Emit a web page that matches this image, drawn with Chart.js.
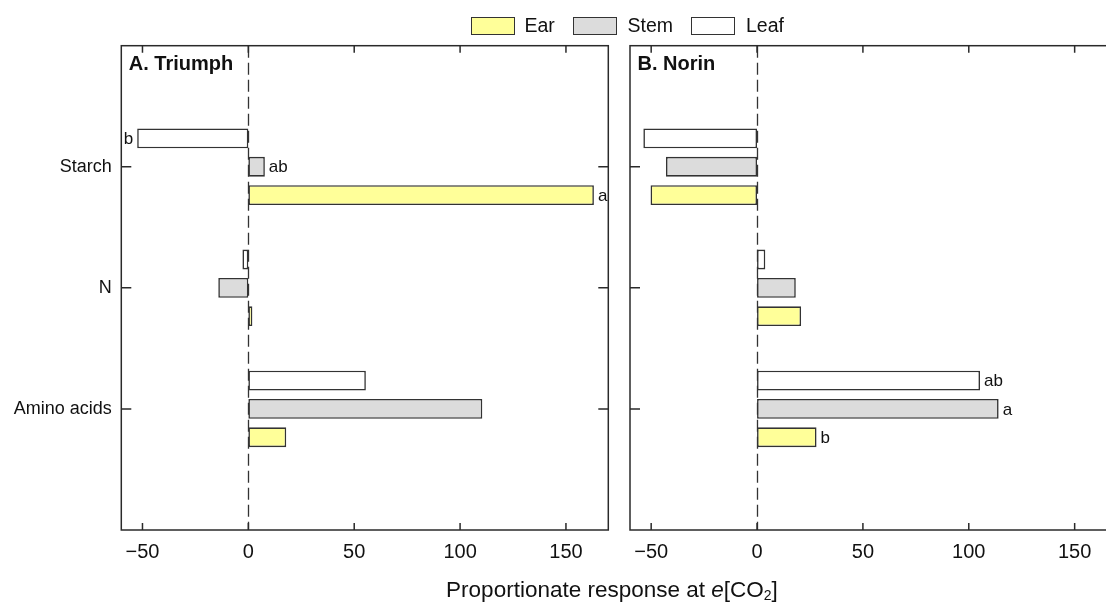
<!DOCTYPE html>
<html><head><meta charset="utf-8">
<script src="https://cdn.jsdelivr.net/npm/chart.js@4.4.1/dist/chart.umd.min.js"></script>
<style>
html,body{margin:0;padding:0;width:1106px;height:606px;overflow:hidden;background:#fff;}
body{position:relative;font-family:"Liberation Sans",Arial,sans-serif;color:#111;}
#c1{position:absolute;left:0;top:0;}
#c2{position:absolute;left:620px;top:0;}
.box{position:absolute;box-sizing:border-box;width:44px;height:18px;border:1.5px solid #333;top:16.5px;}
.lt{position:absolute;font-size:19.5px;line-height:1;top:16.2px;}
#xtitle{position:absolute;left:0;width:1224px;text-align:center;top:578.6px;font-size:22.5px;line-height:1;}
#xtitle sub{font-size:14px;vertical-align:-3px;line-height:0;}
</style></head>
<body>
<canvas id="c1" width="620" height="606"></canvas>
<canvas id="c2" width="500" height="606"></canvas>
<div id="legend"></div>
<div id="xtitle">Proportionate response at <i>e</i>[CO<sub>2</sub>]</div>
<script>
// ---- data ----
const categories = ['Starch', 'N', 'Amino acids'];
const seriesNames = ['Leaf', 'Stem', 'Ear'];
const legendOrder = ['Ear', 'Stem', 'Leaf'];
const triumphLeaf = [-52.5, -2.8, 55.5];
const triumphStem = [7.8, -14.2, 110.5];
const triumphEar  = [163.2, 1.9, 17.9];
const norinLeaf = [-53.7, 3.9, 105.3];
const norinStem = [-43.0, 18.3, 114.1];
const norinEar  = [-50.3, 20.8, 28.1];
const triumphLeafLetters = ['b', '', ''];
const triumphStemLetters = ['ab', '', ''];
const triumphEarLetters  = ['a', '', ''];
const norinLeafLetters = ['', '', 'ab'];
const norinStemLetters = ['', '', 'a'];
const norinEarLetters  = ['', '', 'b'];
const xTicks = [-50, 0, 50, 100, 150];
const xMin = -60, xMax = 170;

// ---- styles ----
const FONT = '"Liberation Sans",Arial,sans-serif';
const fills = {Leaf: '#ffffff', Stem: '#dcdcdc', Ear: '#ffff99'};
const edge = '#333333';

// legend (HTML)
const legendPos = {Ear: [470.5, 524.5], Stem: [572.5, 627.5], Leaf: [690.5, 746]};
const lg = document.getElementById('legend');
legendOrder.forEach(n => {
  const b = document.createElement('div'); b.className = 'box';
  b.style.left = legendPos[n][0] + 'px'; b.style.background = fills[n]; lg.appendChild(b);
  const t = document.createElement('div'); t.className = 'lt';
  t.style.left = legendPos[n][1] + 'px'; t.textContent = n; lg.appendChild(t);
});

const framePlugin = {
  id: 'frame',
  beforeDatasetsDraw(chart) {
    const {ctx, chartArea: a, scales: {x}} = chart;
    const px = Math.round(x.getPixelForValue(0)) + 0.5;
    ctx.save();
    ctx.strokeStyle = '#333'; ctx.lineWidth = 1.3; ctx.setLineDash([12, 5]);
    ctx.beginPath(); ctx.moveTo(px, a.top); ctx.lineTo(px, a.bottom); ctx.stroke();
    ctx.restore();
  },
  afterDatasetsDraw(chart, args, opts) {
    const {ctx, chartArea: a, scales: {x, y}} = chart;
    ctx.save();
    ctx.strokeStyle = '#2a2a2a'; ctx.lineWidth = 1.5;
    ctx.strokeRect(a.left, a.top, a.right - a.left, a.bottom - a.top);
    ctx.beginPath();
    xTicks.forEach(v => {
      const p = x.getPixelForValue(v);
      ctx.moveTo(p, a.bottom); ctx.lineTo(p, a.bottom - 7);
      ctx.moveTo(p, a.top); ctx.lineTo(p, a.top + 7);
    });
    categories.forEach(c => {
      const p = y.getPixelForValue(chart.data.labels.indexOf(c));
      ctx.moveTo(a.left, p); ctx.lineTo(a.left + 10, p);
      ctx.moveTo(a.right, p); ctx.lineTo(a.right - 10, p);
    });
    ctx.stroke();
    // significance letters
    ctx.fillStyle = '#111'; ctx.font = '17px ' + FONT; ctx.textBaseline = 'middle';
    chart.data.datasets.forEach((ds, di) => {
      const meta = chart.getDatasetMeta(di);
      meta.data.forEach((el, i) => {
        const L = ds.letters[i];
        if (!L) return;
        const v = ds.data[i];
        if (v >= 0) { ctx.textAlign = 'left'; ctx.fillText(L, el.x + 4, el.y + 1); }
        else { ctx.textAlign = 'right'; ctx.fillText(L, el.x - 4, el.y + 1); }
      });
    });
    // panel title
    ctx.font = 'bold 20px ' + FONT; ctx.textAlign = 'left'; ctx.textBaseline = 'alphabetic';
    ctx.fillText(opts.title, a.left + 7.5, a.top + 24.3);
    ctx.restore();
  }
};

function makeChart(id, title, series, letters, showY, yWidth, padRight) {
  const labels = ['', ...categories, ''];
  const pad = arr => [null, ...arr, null];
  return new Chart(document.getElementById(id), {
    type: 'bar',
    data: {
      labels,
      datasets: series.map((s, i) => ({
        label: seriesNames[i], data: pad(s), letters: pad(letters[i]),
        backgroundColor: fills[seriesNames[i]], borderColor: edge, borderWidth: 1.6,
        borderSkipped: false, categoryPercentage: 0.7025, barPercentage: 0.70
      }))
    },
    options: {
      indexAxis: 'y', responsive: false, animation: false, devicePixelRatio: 1,
      layout: {padding: {top: 45.7, right: padRight, left: 0, bottom: 0}},
      plugins: {legend: {display: false}, tooltip: {enabled: false}, frame: {title}},
      scales: {
        x: {
          type: 'linear', min: xMin, max: xMax,
          afterBuildTicks: s => { s.ticks = xTicks.map(v => ({value: v})); },
          afterFit: s => { s.height = 76; },
          grid: {display: false, drawTicks: false}, border: {display: false},
          ticks: {padding: 10, color: '#111', font: {family: FONT, size: 20},
                  callback: v => v < 0 ? '\u2212' + Math.abs(v) : String(v)}
        },
        y: {
          type: 'category', offset: false,
          afterFit: s => { s.width = yWidth; },
          grid: {display: false, offset: false, drawTicks: false}, border: {display: false},
          ticks: {display: showY, padding: 9.5, autoSkip: false, color: '#111', font: {family: FONT, size: 18}}
        }
      }
    },
    plugins: [framePlugin]
  });
}

makeChart('c1', 'A. Triumph', [triumphLeaf, triumphStem, triumphEar],
  [triumphLeafLetters, triumphStemLetters, triumphEarLetters], true, 121.3, 11.7);
makeChart('c2', 'B. Norin', [norinLeaf, norinStem, norinEar],
  [norinLeafLetters, norinStemLetters, norinEarLetters], false, 10, 3);
</script>
</body></html>
